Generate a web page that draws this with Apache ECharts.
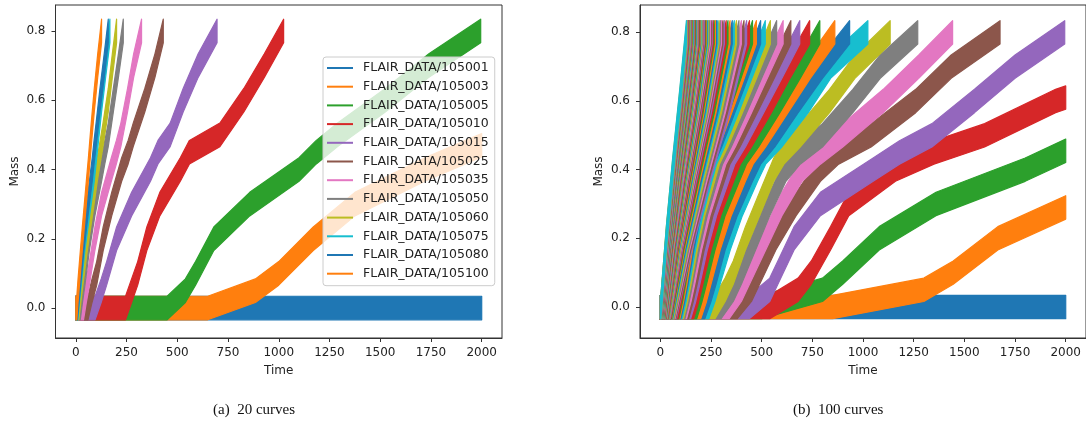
<!DOCTYPE html>
<html>
<head>
<meta charset="utf-8">
<script src="https://cdn.jsdelivr.net/npm/echarts@6/dist/echarts.min.js"></script>
<style>
  html, body { margin: 0; padding: 0; background: #fff; }
  #chart { width: 1086px; height: 427px; }
</style>
</head>
<body>
<div id="chart"></div>
<script>
// Mass of each run against time. Each run is noisy; the noise is drawn as a band
// of constant height around the centre line given by the tables below.
const X_TICKS = [0, 250, 500, 750, 1000, 1250, 1500, 1750, 2000];
const Y_TICKS = [0, 0.2, 0.4, 0.6, 0.8];
const T_END = 2000;
const NOISE_HALF_HEIGHT = 0.034;

// Mass levels and the time at which the centre line reaches each of them
// (null: level not reached before t = 2000).
const LEVELS_FINE = [0, 0.05, 0.1, 0.2, 0.3, 0.4, 0.45, 0.5, 0.6, 0.7, 0.8];
const LEVELS_COARSE = [0, 0.2, 0.4, 0.6, 0.8];

// ---- panel (a) ----
const leftIds = [105001, 105003, 105005, 105010, 105015, 105025, 105035, 105050, 105060, 105075, 105080, 105100];
const leftRise = [
  [null, null, null, null, null, null, null, null, null, null, null],
  [650, 885, 1000, 1170, 1375, 1720, 1920, null, null, null, null],
  [450, 540, 590, 680, 857, 1100, 1185, 1290, 1525, 1740, 1995],
  [245, 275, 305, 350, 414, 515, 560, 710, 828, 929, 1024],
  [95, 125, 152, 201, 275, 368, 405, 465, 529, 603, 696],
  [60, 80, 103, 135, 177, 226, 258, 283, 340, 390, 431],
  [38, 52, 67, 94, 127, 175, 200, 222, 255, 285, 324],
  [22, 33, 45, 67, 94, 127, 143, 160, 185, 210, 234],
  [15, 25, 35, 57, 82, 106, 120, 134, 160, 180, 201],
  [10, 18, 27, 45, 68, 91, 100, 109, 127, 147, 168],
  [8, 16, 24, 40, 60, 81, 90, 100, 119, 140, 160],
  [5, 11, 18, 32, 47, 62, 69, 76, 91, 108, 127]
];
// mass at t = 2000 for runs that stay below 0.8
const leftEndMass = [0, 0.47, null, null, null, null, null, null, null, null, null, null];

// ---- panel (b): runs 105001 ... 105100 ----
const rightSlowRise = [
  [null, null, null, null, null, null, null, null, null, null, null],
  [850, 1300, 1445, 1665, null, null, null, null, null, null, null],
  [500, 800, 900, 1080, 1360, 1800, null, null, null, null, null],
  [540, 680, 745, 840, 930, 1160, 1350, 1600, 1950, null, null],
  [440, 540, 580, 660, 790, 1050, 1180, 1340, 1550, 1750, 1995],
  [380, 450, 490, 570, 670, 790, 880, 1040, 1260, 1435, 1676],
  [340, 400, 440, 520, 600, 700, 790, 900, 1100, 1275, 1442],
  [300, 360, 400, 470, 540, 620, 690, 800, 950, 1085, 1270],
  [270, 320, 360, 420, 490, 560, 610, 690, 835, 960, 1134],
  [240, 270, 295, 345, 405, 480, 520, 600, 730, 840, 1024],
  [220, 250, 275, 320, 380, 455, 495, 565, 680, 800, 934],
  [200, 228, 250, 295, 350, 420, 458, 520, 630, 740, 861],
  [180, 206, 228, 270, 320, 390, 425, 485, 590, 690, 787],
  [165, 190, 210, 250, 298, 362, 395, 450, 548, 640, 737],
  [150, 175, 195, 232, 278, 338, 368, 420, 510, 600, 688],
  [140, 163, 182, 217, 260, 316, 344, 393, 478, 562, 644],
  [130, 152, 170, 204, 245, 298, 324, 370, 450, 528, 606],
  [122, 143, 160, 193, 232, 282, 307, 350, 426, 500, 574],
  [115, 135, 152, 183, 220, 268, 292, 333, 405, 475, 543],
  [108, 128, 144, 174, 210, 255, 278, 317, 386, 452, 518],
  [102, 121, 137, 166, 200, 244, 266, 303, 368, 432, 495],
  [97, 115, 131, 159, 192, 234, 255, 290, 353, 414, 474],
  [92, 110, 125, 152, 184, 224, 245, 279, 339, 398, 455],
  [88, 105, 120, 146, 177, 216, 236, 269, 327, 383, 440]
];
const rightSlowEndMass = [0, 0.29, 0.455, 0.61];

const rightFastRise = [
  [80, 156, 246, 343, 426], [77, 151, 238, 332, 413], [73, 145, 230, 321, 400],
  [70, 140, 223, 312, 388], [66, 134, 215, 302, 376], [62, 129, 207, 292, 365],
  [60, 125, 202, 284, 355], [57, 120, 195, 275, 344], [55, 116, 189, 267, 334],
  [52, 112, 183, 259, 325], [50, 109, 178, 252, 316], [48, 105, 173, 246, 309],
  [47, 103, 169, 241, 302], [45, 100, 165, 236, 296], [44, 98, 162, 231, 290],
  [42, 95, 158, 226, 284], [41, 93, 155, 221, 278], [40, 91, 151, 216, 272],
  [38, 88, 147, 211, 266], [37, 86, 144, 206, 261], [36, 84, 141, 202, 256],
  [35, 82, 138, 198, 251], [33, 79, 134, 193, 247], [32, 78, 131, 189, 242],
  [31, 76, 129, 186, 238], [30, 74, 126, 183, 234], [29, 73, 124, 180, 230],
  [28, 71, 122, 177, 227], [28, 70, 120, 175, 224], [27, 69, 118, 172, 220],
  [26, 67, 116, 169, 217], [25, 65, 113, 166, 213], [25, 65, 112, 164, 210],
  [24, 63, 109, 160, 207], [23, 62, 107, 158, 204], [22, 60, 106, 155, 201],
  [22, 60, 104, 153, 198], [21, 58, 103, 151, 196], [20, 57, 101, 149, 193],
  [20, 57, 100, 147, 191], [19, 55, 98, 145, 188], [19, 55, 97, 143, 186],
  [18, 53, 95, 141, 184], [18, 53, 94, 140, 182], [17, 52, 93, 138, 180],
  [16, 51, 91, 136, 178], [16, 50, 90, 135, 176], [15, 49, 89, 133, 174],
  [15, 48, 88, 132, 172], [14, 47, 86, 130, 170], [14, 47, 86, 128, 168],
  [13, 46, 85, 127, 167], [13, 45, 84, 126, 165], [12, 44, 83, 125, 164],
  [12, 44, 82, 124, 163], [11, 43, 81, 123, 162], [11, 43, 80, 121, 160],
  [10, 41, 79, 120, 158], [10, 41, 78, 118, 156], [9, 40, 76, 116, 154],
  [9, 40, 76, 116, 153], [8, 38, 74, 114, 151], [8, 38, 73, 112, 149],
  [7, 37, 72, 111, 148], [7, 36, 71, 110, 146], [7, 36, 71, 109, 145],
  [6, 35, 69, 107, 143], [6, 35, 69, 107, 142], [5, 34, 67, 105, 140],
  [5, 33, 67, 104, 139], [5, 33, 66, 103, 137], [4, 32, 65, 102, 136],
  [4, 32, 64, 100, 134], [4, 31, 64, 99, 133], [3, 30, 62, 97, 131],
  [3, 30, 61, 96, 129]
];

const TAB10 = ['#1f77b4', '#ff7f0e', '#2ca02c', '#d62728', '#9467bd',
               '#8c564b', '#e377c2', '#7f7f7f', '#bcbd22', '#17becf'];
const FONT = 'DejaVu Sans';

function centreLine(times, levels, endMass) {
  const pts = [[0, 0]];
  times.forEach((t, i) => { if (t !== null) pts.push([t, levels[i]]); });
  if (endMass !== null && endMass !== undefined) pts.push([T_END, endMass]);
  return pts;
}

// One run = one filled band: centre line +/- the noise half height,
// placed through the axes of its panel.
function bandSeries(id, pts, color, panel) {
  return {
    type: 'custom', name: 'FLAIR_DATA/' + id,
    coordinateSystem: 'cartesian2d', xAxisIndex: panel, yAxisIndex: panel,
    data: pts, encode: { x: 0, y: 1 },
    silent: true, animation: false,
    itemStyle: { color: color },
    renderItem: function (params, api) {
      if (params.dataIndex !== 0) return null;
      const upper = pts.map(p => api.coord([p[0], p[1] + NOISE_HALF_HEIGHT]));
      const lower = pts.map(p => api.coord([p[0], p[1] - NOISE_HALF_HEIGHT])).reverse();
      return {
        type: 'polygon',
        shape: { points: upper.concat(lower) },
        style: { fill: color, stroke: color, lineWidth: 1.2, lineJoin: 'round' }
      };
    }
  };
}

const series = [];
leftIds.forEach((id, i) => {
  const pts = centreLine(leftRise[i], LEVELS_FINE, leftEndMass[i]);
  series.push(bandSeries(id, pts, TAB10[i % 10], 0));
});
for (let k = 1; k <= 100; k++) {
  let pts;
  if (k <= rightSlowRise.length) {
    pts = centreLine(rightSlowRise[k - 1], LEVELS_FINE, rightSlowEndMass[k - 1]);
  } else {
    pts = centreLine(rightFastRise[k - 1 - rightSlowRise.length], LEVELS_COARSE, null);
  }
  series.push(bandSeries(105000 + k, pts, TAB10[(k - 1) % 10], 1));
}

const axisText = { fontFamily: FONT, fontSize: 12, color: '#222' };

function xAxis(grid) {
  return {
    gridIndex: grid, type: 'value', min: -100, max: 2100,
    name: 'Time', nameLocation: 'middle', nameGap: 27,
    nameTextStyle: axisText,
    axisLine: { show: true, onZero: false, lineStyle: { color: '#333', width: 1 } },
    axisTick: { show: true, length: 4, customValues: X_TICKS, lineStyle: { color: '#333' } },
    axisLabel: Object.assign({ customValues: X_TICKS, margin: 9,
      formatter: v => String(v) }, axisText),
    splitLine: { show: false }
  };
}
function yAxis(grid, lo, hi) {
  return {
    gridIndex: grid, type: 'value', min: lo, max: hi,
    name: 'Mass', nameLocation: 'middle', nameGap: 35,
    nameTextStyle: axisText,
    axisLine: { show: true, onZero: false, lineStyle: { color: '#333', width: 1 } },
    axisTick: { show: true, length: 4, customValues: Y_TICKS, lineStyle: { color: '#333' } },
    axisLabel: Object.assign({ customValues: Y_TICKS, margin: 10,
      formatter: v => v.toFixed(1) }, axisText),
    splitLine: { show: false }
  };
}

const chart = echarts.init(document.getElementById('chart'), null, { renderer: 'canvas' });
chart.setOption({
  animation: false,
  backgroundColor: '#fff',
  textStyle: { fontFamily: FONT },
  grid: [
    { left: 55.5, top: 5, width: 446.5, height: 333, show: true, borderColor: '#333', borderWidth: 1 },
    { left: 640, top: 5, width: 447, height: 333, show: true, borderColor: '#333', borderWidth: 1 }
  ],
  xAxis: [xAxis(0), xAxis(1)],
  yAxis: [yAxis(0, -0.0866, 0.875), yAxis(1, -0.0904, 0.8796)],
  legend: {
    data: leftIds.map(id => 'FLAIR_DATA/' + id),
    orient: 'vertical', left: 323, top: 57,
    icon: 'rect', itemWidth: 26, itemHeight: 2, itemGap: 4.7,
    padding: [4, 6, 5, 4],
    backgroundColor: 'rgba(255,255,255,0.8)',
    borderColor: '#cccccc', borderWidth: 1, borderRadius: 3,
    selectedMode: false,
    textStyle: { fontFamily: FONT, fontSize: 12.5, color: '#222', lineHeight: 14, padding: [0, 0, 0, 5] }
  },
  graphic: [
    { type: 'text', left: 213, top: 403,
      style: { text: '(a)  20 curves', font: '15px "Liberation Serif"', fill: '#111' } },
    { type: 'text', left: 793, top: 403,
      style: { text: '(b)  100 curves', font: '15px "Liberation Serif"', fill: '#111' } }
  ],
  series: series
});
</script>
</body>
</html>
